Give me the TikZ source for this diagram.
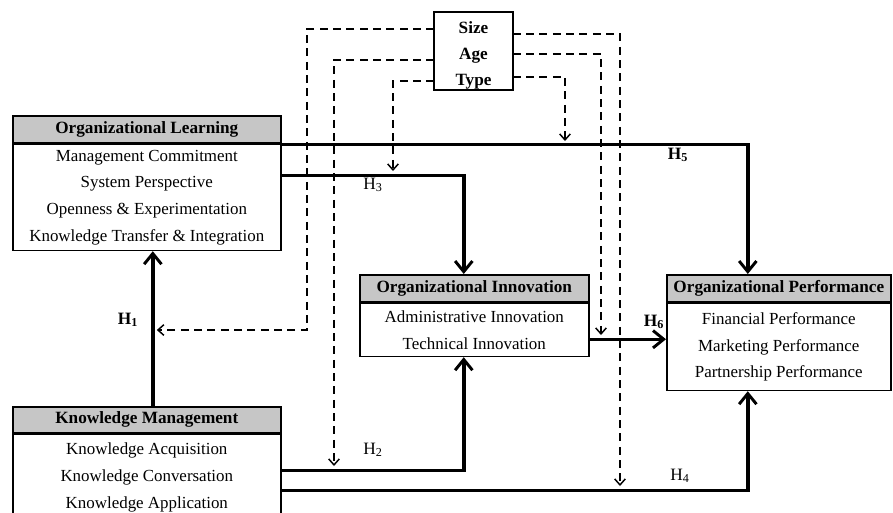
\documentclass[tikz,border=0pt]{standalone}
\usepackage{fontspec}
\setmainfont{Liberation Serif}
\usetikzlibrary{arrows.meta}

\tikzset{
  hdr/.style={draw, line width=1.2pt, fill=gray!45, inner sep=0pt,
    font=\fontsize{12.9}{14}\selectfont\bfseries},
  items/.style={draw, line width=1.2pt, fill=white, align=center, inner sep=0pt,
    font=\fontsize{12.7}{20}\selectfont},
  link/.style={line width=2.6pt, -{Straight Barb[length=8pt,width=13pt,line width=2.2pt]}},
  ctrl/.style={line width=1.1pt, dash pattern=on 6pt off 4pt,
    -{Straight Barb[length=4.5pt,width=8pt,line width=1.1pt]}},
  hlab/.style={font=\fontsize{13}{14}\selectfont},
}

\begin{document}
\begin{tikzpicture}[x=0.75pt,y=-0.75pt]
\useasboundingbox (0,0) rectangle (893,512);
\clip (0,0) rectangle (893,512);

% Boxes
\node[hdr, minimum width=201pt, minimum height=20.25pt, anchor=north west] (olh) at (12,115) {Organizational Learning};
\node[items, minimum width=201pt, minimum height=79.5pt, anchor=north] (ol) at (olh.south)
  {Management Commitment\\System Perspective\\Openness \& Experimentation\\Knowledge Transfer \& Integration};

\node[hdr, minimum width=171.75pt, minimum height=20.25pt, anchor=north west] (oih) at (359,274) {Organizational Innovation};
\node[items, minimum width=171.75pt, minimum height=39.75pt, anchor=north] (oi) at (oih.south)
  {Administrative Innovation\\Technical Innovation};

\node[hdr, minimum width=168pt, minimum height=20.25pt, anchor=north west] (oph) at (666,274) {Organizational Performance};
\node[items, minimum width=168pt, minimum height=65.25pt, anchor=north] (op) at (oph.south)
  {Financial Performance\\Marketing Performance\\Partnership Performance};

\node[hdr, minimum width=201pt, minimum height=19.5pt, anchor=north west] (kmh) at (12,406) {Knowledge Management};
\node[items, minimum width=201pt, minimum height=64.5pt, anchor=north] (km) at (kmh.south)
  {Knowledge Acquisition\\Knowledge Conversation\\Knowledge Application};

% Size / Age / Type
\node[items, draw=none, font=\fontsize{12.9}{19.5}\selectfont\bfseries, minimum width=57.75pt, minimum height=57pt] (sat) at (473.5,55)
  {Size\\Age\\Type};
\draw[line width=1.2pt] ([yshift=3pt]sat.north west) rectangle ([yshift=3pt]sat.south east);

% Hypotheses
\draw[link] ([xshift=4.5pt]kmh.north) -- ([xshift=4.5pt]ol.south);
\draw[link] ([yshift=16.5pt]ol.east) -| ([xshift=-7.9pt]oih.north);
\draw[link] ([yshift=-0.8pt]ol.north east) -| ([xshift=-23.25pt]oph.north);
\draw[link] ([yshift=-7pt]oi.east) -- ([yshift=-7pt]oi.east -| op.west);
\draw[link] ([yshift=5.25pt]km.east) -| ([xshift=-7.9pt]oi.south);
\draw[link] ([yshift=-9.75pt]km.east) -| ([xshift=-23.25pt]op.south);

% Controls
\coordinate (h1) at ([xshift=4.5pt]kmh.north);
\coordinate (c1) at (307,330);
\coordinate (m2) at (334,466);
\coordinate (m3) at (393,171);
\coordinate (m4) at (620,486);
\coordinate (m5) at (565,141);
\coordinate (m6) at (601,335);
\draw[ctrl] ([yshift=19.5pt]sat.west) -| (c1) -- ([xshift=3pt]c1 -| h1);
\draw[ctrl] ([yshift=-3.75pt]sat.west) -| (m2);
\draw[ctrl] ([yshift=-19.5pt]sat.west) -| (m3);
\draw[ctrl] ([yshift=15.75pt]sat.east) -| (m4);
\draw[ctrl] ([yshift=-16.5pt]sat.east) -| (m5);
\draw[ctrl] ([yshift=0.75pt]sat.east) -| (m6);

% Labels
\node[hlab] (l1) at (128,320) {\textbf{H\textsubscript{1}}};
\node[hlab] (l2) at (373,450) {H\textsubscript{2}};
\node[hlab] (l3) at (373,185) {H\textsubscript{3}};
\node[hlab] (l4) at (680,476) {H\textsubscript{4}};
\node[hlab] (l5) at (678,155) {\textbf{H\textsubscript{5}}};
\node[hlab] (l6) at (654,322) {\textbf{H\textsubscript{6}}};
\end{tikzpicture}
\end{document}
